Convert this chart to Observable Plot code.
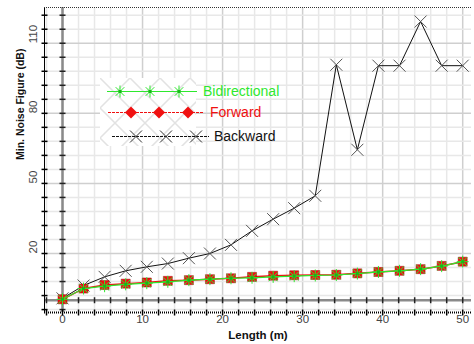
<!DOCTYPE html>
<html><head><meta charset="utf-8">
<script src="https://cdn.jsdelivr.net/npm/d3@7"></script>
<script src="https://cdn.jsdelivr.net/npm/@observablehq/plot@0.6"></script>
<style>body{margin:0;background:#fff} svg{display:block}</style>
</head><body><div id="chart"></div>
<script>
// ---- data ----
const lengths = [0, 2.63, 5.26, 7.89, 10.53, 13.16, 15.79, 18.42, 21.05, 23.68, 26.32, 28.95, 31.58, 34.21, 36.84, 39.47, 42.11, 44.74, 47.37, 50];
const bidirectional = [0.4, 5.0, 6.0, 6.8, 7.3, 7.9, 8.6, 9.0, 9.4, 9.6, 10.0, 10.3, 10.6, 10.8, 11.4, 12.1, 12.6, 13.3, 14.6, 16.5];
const forward       = [0.4, 5.0, 6.5, 7.1, 7.6, 8.3, 8.6, 9.0, 9.4, 10.0, 10.5, 10.7, 10.8, 10.9, 11.5, 12.1, 12.6, 13.3, 14.7, 16.5];
const backward      = [0.8, 6.3, 10.0, 12.6, 14.3, 15.7, 18.0, 20.0, 23.7, 29.7, 34.7, 39.4, 44.7, 100.8, 64.4, 100.4, 100.4, 119.3, 100.4, 100.4];
const seriesNames = ["Bidirectional", "Forward", "Backward"];
const xTickLabels = [0, 10, 20, 30, 40, 50];
const yTickLabels = [20, 50, 80, 110];
const xMinorTicks = d3.range(-2, 51, 2);
const yMinorTicks = d3.range(-4, 125, 6);
const xTitle = "Length (m)";
const yTitle = "Min. Noise Figure (dB)";

const X0 = -2.25, X1 = 51.1, Y0 = -5.25, Y1 = 125.3;
const GREEN = "#2ee82e", RED = "#f01010", BLACK = "#111";

const star8 = {draw(c){const r=6,d=r*0.72;c.moveTo(-r,0);c.lineTo(r,0);c.moveTo(0,-r);c.lineTo(0,r);c.moveTo(-d,-d);c.lineTo(d,d);c.moveTo(-d,d);c.lineTo(d,-d);}};
const cross = {draw(c){const r=6;c.moveTo(-r,-r);c.lineTo(r,r);c.moveTo(-r,r);c.lineTo(r,-r);}};
const square = {draw(c){c.rect(-4.5,-4.5,9,9);}};
const diamond = {draw(c){const r=6;c.moveTo(0,-r);c.lineTo(r,0);c.lineTo(0,r);c.lineTo(-r,0);c.closePath();}};
const hTick = {draw(c){c.moveTo(-3,0);c.lineTo(3,0);}};
const vTick = {draw(c){c.moveTo(0,-3);c.lineTo(0,3);}};
const dotC = {draw(c){c.rect(-1.5,-1.5,3,3);}};

const data = lengths.map((x, i) => ({x, bi: bidirectional[i], fw: forward[i], bw: backward[i]}));

const chart = Plot.plot({
  width: 474, height: 344,
  marginLeft: 44, marginRight: 3, marginTop: 7, marginBottom: 32,
  x: {domain: [X0, X1]}, y: {domain: [Y0, Y1]},
  axis: null,
  style: {fontFamily: "'Liberation Sans', Arial, sans-serif", background: "#fff"},
  marks: [
    Plot.ruleX(xMinorTicks, {x: d => d, stroke: d => d % 10 === 0 ? "#cfcfcf" : "#e8e8e8", strokeWidth: 1.5}),
    Plot.ruleY(yMinorTicks, {y: d => d, stroke: d => yTickLabels.includes(d) ? "#cfcfcf" : "#e8e8e8", strokeWidth: 1.5}),
    Plot.ruleX([0], {x: d => d, stroke: "#8a8a8a", strokeWidth: 2.5}),
    Plot.ruleY([0], {y: d => d, stroke: "#8a8a8a", strokeWidth: 2.5}),
    Plot.dot(yMinorTicks, {x: () => 0, y: d => d, symbol: hTick, stroke: "#222", fill: "none"}),
    Plot.dot(xMinorTicks, {x: d => d, y: () => 0, symbol: vTick, stroke: "#222", fill: "none"}),
    Plot.ruleX([X0], {x: d => d, stroke: "#000"}),
    Plot.dot(yMinorTicks, {x: () => X0, y: d => d, symbol: hTick, stroke: "#000", fill: "none"}),
    Plot.ruleY([Y0], {y: d => d, stroke: "#000", strokeWidth: 2, strokeDasharray: "1,1"}),
    Plot.dot(xMinorTicks, {x: d => d, y: () => Y0, symbol: vTick, stroke: "#000", fill: "none"}),
    Plot.ruleY([Y1], {y: d => d, stroke: "#333", strokeDasharray: "1,1"}),
    // Backward
    Plot.line(data, {x: "x", y: "bw", stroke: BLACK, strokeWidth: 1}),
    Plot.dot(data, {x: "x", y: "bw", symbol: cross, stroke: "#555", fill: "none", strokeWidth: 1}),
    // Forward
    Plot.line(data, {x: "x", y: "fw", stroke: RED, strokeWidth: 1.5}),
    Plot.dot(data, {x: "x", y: "fw", symbol: square, fill: RED, stroke: "#a01010", strokeWidth: 0.5}),
    // Bidirectional
    Plot.line(data, {x: "x", y: "bi", stroke: GREEN, strokeWidth: 1.2}),
    Plot.dot(data, {x: "x", y: "bi", symbol: star8, stroke: GREEN, fill: "none", strokeWidth: 1}),
    Plot.dot(data, {x: "x", y: "bi", symbol: dotC, fill: "#18b818", stroke: "none"}),
    // tick labels
    Plot.text(xTickLabels, {x: d => d, frameAnchor: "bottom", dy: 10, text: d => String(d), fill: "#444", fontSize: 11.5}),
    Plot.text(yTickLabels, {y: d => d, frameAnchor: "left", dx: -11, rotate: -90, text: d => String(d), fill: "#444", fontSize: 11.5}),
    // titles
    Plot.text([xTitle], {frameAnchor: "bottom", dy: 26, text: d => d, fontWeight: "bold", fontSize: 11.5, fill: "#111"}),
    Plot.text([yTitle], {frameAnchor: "left", dx: -24, rotate: -90, text: d => d, fontWeight: "bold", fontSize: 10.5, fill: "#111"})
  ]
});
document.getElementById("chart").appendChild(chart);

// ---- legend ----
const svg = d3.select(chart);
const defs = svg.append("defs");
const pat = defs.append("pattern").attr("id", "lat").attr("patternUnits", "userSpaceOnUse")
  .attr("x", 100).attr("y", 78).attr("width", 30).attr("height", 30);
pat.append("rect").attr("width", 30).attr("height", 30).attr("fill", "#fff");
pat.append("path").attr("d", "M0,0L30,30M30,0L0,30").attr("stroke", "#e2e2e2").attr("stroke-width", 1.5);
const lg = svg.append("g").attr("text-anchor", "start");
lg.append("rect").attr("x", 100).attr("y", 78).attr("width", 96).attr("height", 68).attr("fill", "url(#lat)");
const entries = [
  {name: seriesNames[0], color: GREEN, y: 91.5, x1: 107, x2: 197, marks: [120, 150, 179], sym: star8, tx: 203, ty: 96, ms: GREEN, mf: "none"},
  {name: seriesNames[1], color: RED, y: 112.5, x1: 108, x2: 203, marks: [131, 159, 188], sym: diamond, tx: 210, ty: 117, ms: "none", mf: RED},
  {name: seriesNames[2], color: BLACK, y: 136.5, x1: 112, x2: 209, marks: [136, 166, 196], sym: cross, tx: 214, ty: 141, ms: "#333", mf: "none"}
];
for (const e of entries) {
  lg.append("line").attr("x1", e.x1).attr("x2", e.x2).attr("y1", e.y).attr("y2", e.y)
    .attr("stroke", e.color).attr("stroke-width", 1).attr("stroke-dasharray", e.name === "Bidirectional" ? null : "3,1");
  for (const mx of e.marks) {
    const p = d3.path(); e.sym.draw(p);
    lg.append("path").attr("d", p.toString()).attr("transform", `translate(${mx},${e.y})`)
      .attr("stroke", e.ms).attr("fill", e.mf);
    if (e.sym === star8) {
      const q = d3.path(); dotC.draw(q);
      lg.append("path").attr("d", q.toString()).attr("transform", `translate(${mx},${e.y})`).attr("fill", "#18b818");
    }
  }
  lg.append("text").attr("x", e.tx).attr("y", e.ty).text(e.name)
    .attr("text-anchor", "start")
    .attr("fill", e.color === BLACK ? "#111" : e.color).attr("font-size", 14)
    .attr("font-family", "'Liberation Sans', Arial, sans-serif");
}
</script>
</body></html>
